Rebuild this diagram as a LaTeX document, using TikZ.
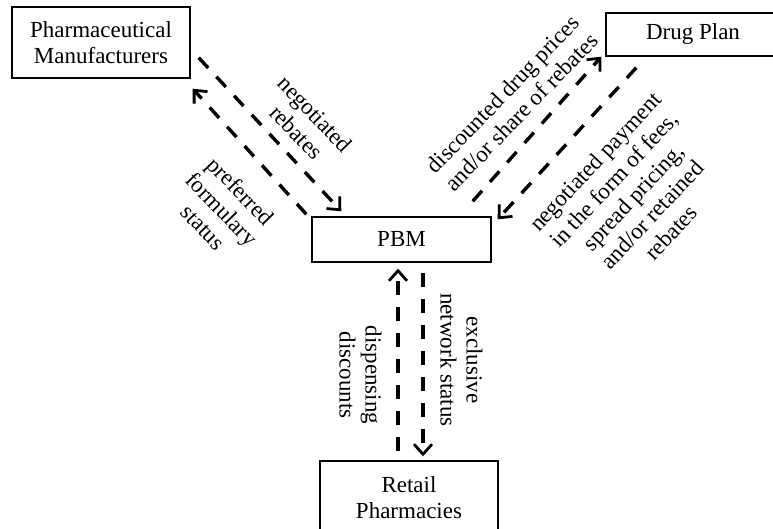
\documentclass[tikz,border=0pt]{standalone}
\usepackage{fontspec}
\setmainfont{Liberation Serif}
\usetikzlibrary{arrows.meta,calc}
\begin{document}
\begin{tikzpicture}[x=1pt,y=1pt,
  entity/.style={draw,line width=1.4pt,inner sep=0pt,align=center,font=\fontsize{23}{25.5}\selectfont},
  lbl/.style={inner sep=0pt,align=center,font=\fontsize{23}{26}\selectfont},
  flow/.style={line width=3.4pt,dash pattern=on 14pt off 12pt,-{Straight Barb[length=10pt,width=18pt,line width=2.8pt]}}]
\clip (0,0) rectangle (773,529);
\fill[white] (0,0) rectangle (773,529);
\node[entity,minimum width=178pt,minimum height=71pt] (man) at (101,486.5) {Pharmaceutical\\Manufacturers};
\node[entity,minimum width=174pt,minimum height=43pt] (plan) at (693,494.5) {Drug Plan};
\node[entity,minimum width=179pt,minimum height=45pt] (pbm) at (401.5,289.5) {PBM};
\node[entity,minimum width=178pt,minimum height=73pt] (ret) at (409,31.5) {Retail\\Pharmacies};
% manufacturers <-> PBM
\draw[flow] ($(man.south east)+(8,21)$) -- ($(pbm.north west)+(30,5)$);
\draw[flow] ($(pbm.north west)+(-5,2)$) -- ($(man.south east)+(2,-10)$);
% PBM <-> drug plan
\draw[flow] ($(pbm.north east)+(-19,15)$) -- ($(plan.south west)+(-4,0)$);
\draw[flow] ($(plan.south west)+(31,-11)$) -- ($(pbm.north east)+(6,-3)$);
% PBM <-> retail
\draw[flow] ($(ret.north)+(-11,9)$) -- ($(pbm.south)+(-3.5,-6)$);
\draw[flow] ($(pbm.south)+(21.5,-10)$) -- ($(ret.north)+(14,4)$);
% labels
\node[lbl,rotate=-46] (l1) at (306,406) {negotiated\\rebates};
\node[lbl,rotate=-46] (l2) at (222,320) {preferred\\formulary\\status};
\node[lbl,rotate=46] (l3) at (512,426) {discounted drug prices\\and/or share of rebates};
\node[lbl,rotate=47] (l4) at (633,332) {negotiated payment\\in the form of fees,\\spread pricing,\\and/or retained\\rebates};
\node[lbl,rotate=-90] (l5) at (360.5,154) {dispensing\\discounts};
\node[lbl,rotate=-90] (l6) at (461.5,169) {exclusive\\network status};
\end{tikzpicture}
\end{document}
